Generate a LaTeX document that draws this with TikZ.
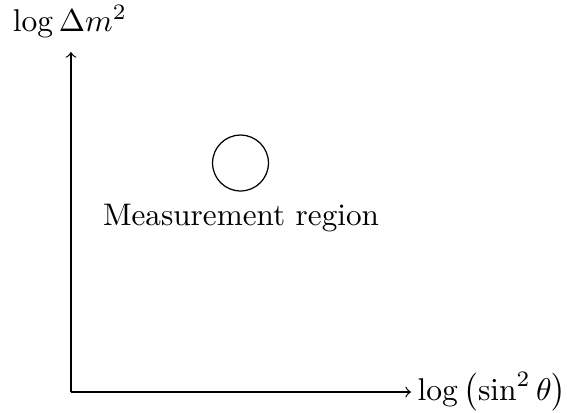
\documentclass[tikz,border=0pt]{standalone}
\begin{document}
\begin{tikzpicture}[x=0.3237pt,y=-0.3237pt,
  axis/.style={->},
  lbl/.style={inner sep=0pt}]
\useasboundingbox (0,0) rectangle (567,412);
\coordinate (o) at (71,392);
\coordinate (ytip) at (71,52);
\coordinate (xtip) at (411,392);
\draw[axis] (o) -- (ytip);
\draw[axis] (o) -- (xtip);
\node[lbl,anchor=base,scale=1.02] (ylab) at (70,31) {$\log\Delta m^2$};
\node[lbl,anchor=west,scale=1.02] (xlab) at (417,392) {$\log\left(\sin^2\theta\right)$};
\node[draw,circle,minimum size=18.1pt,inner sep=0pt] (c) at (240.5,163) {};
\node[lbl,anchor=base,scale=1.01] (mlab) at (241,225) {Measurement region};
\end{tikzpicture}
\end{document}
